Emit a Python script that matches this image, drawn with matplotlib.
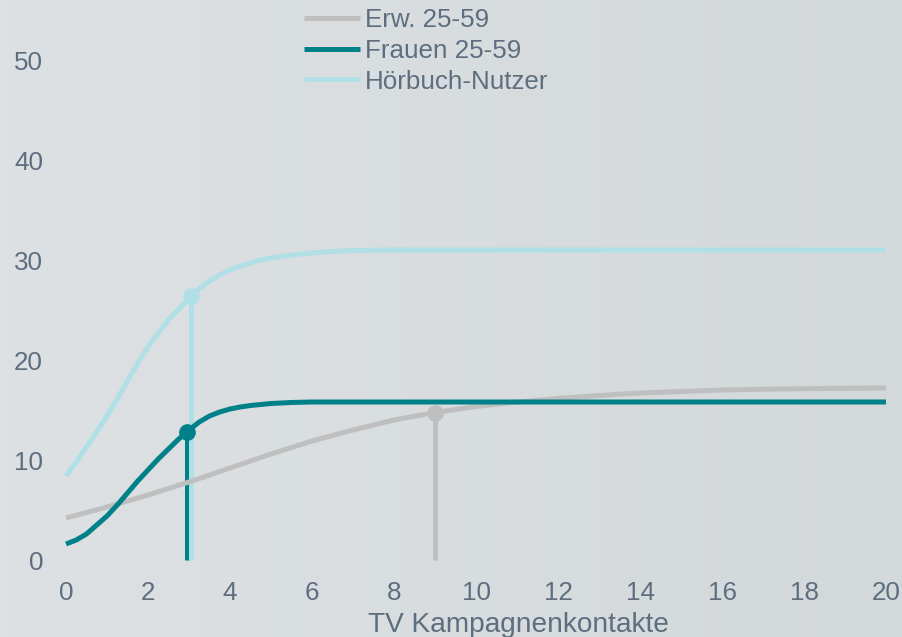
import numpy as np
import matplotlib
matplotlib.use("Agg")
import matplotlib.pyplot as plt
from matplotlib.colors import LinearSegmentedColormap

plt.rcParams["font.family"] = ["Liberation Sans", "DejaVu Sans"]

# reach curves over TV campaign contacts
kontakte_fein = [0, 0.25, 0.5, 0.75, 1, 1.25, 1.5, 1.75, 2, 2.25, 2.5, 2.75,
                 3, 3.25, 3.5, 3.75, 4, 4.25, 4.5, 4.75, 5, 5.5, 6, 6.5, 7,
                 8, 9, 10, 11, 12, 13, 14, 15, 16, 17, 18, 19, 20]
kontakte = [0, 1, 2, 3, 4, 5, 6, 7, 8, 9, 10, 11, 12, 13, 14, 15, 16, 17, 18,
            19, 20]

erw = [4.2, 5.3, 6.5, 7.8, 9.2, 10.6, 11.9, 13.0, 14.0, 14.75, 15.35, 15.8,
       16.15, 16.45, 16.7, 16.85, 17.0, 17.08, 17.13, 17.17, 17.2]
frauen = [1.6, 2.0, 2.6, 3.5, 4.4, 5.5, 6.7, 7.9, 9.0, 10.1, 11.1, 12.1, 13.0,
          13.8, 14.4, 14.8, 15.1, 15.3, 15.45, 15.55, 15.65, 15.75, 15.8,
          15.8, 15.8, 15.8, 15.8, 15.8, 15.8, 15.8, 15.8, 15.8, 15.8, 15.8,
          15.8, 15.8, 15.8, 15.8]
hoerbuch = [8.4, 9.8, 11.3, 12.8, 14.4, 16.1, 17.9, 19.7, 21.3, 22.7, 24.0,
            25.1, 26.2, 27.1, 27.9, 28.5, 29.0, 29.4, 29.7, 30.0, 30.2, 30.5,
            30.7, 30.85, 30.95, 31.0, 31.0, 31.0, 31.0, 31.0, 31.0, 31.0,
            31.0, 31.0, 31.0, 31.0, 31.0, 31.0]

# optimum points (contacts, reach)
opt_erw = (9, 14.75)
opt_frauen = (2.94, 12.8)
opt_hoerbuch = (3.06, 26.4)

labels = ["Erw. 25-59", "Frauen 25-59", "Hörbuch-Nutzer"]
colors = ["#bfbfbf", "#00818a", "#b0e0e6"]
text_col = "#5e6e7e"
fs = 18.7

fig = plt.figure(figsize=(9.02, 6.37), dpi=100)

# soft horizontal background gradient
bg = fig.add_axes([0, 0, 1, 1], zorder=-10)
cmap = LinearSegmentedColormap.from_list("bg", ["#dde1e4", "#d3d8db"])
bg.imshow(np.linspace(0, 1, 256).reshape(1, -1), aspect="auto", cmap=cmap,
          extent=[0, 1, 0, 1])
bg.axis("off")

ax = fig.add_axes([66 / 902, 77 / 637, 820 / 902, 560 / 637])
ax.patch.set_alpha(0)
ax.set_xlim(0, 20)
ax.set_ylim(0, 56)

lw = 3.6
opts = [opt_erw, opt_frauen, opt_hoerbuch]
for (ox, oy), c in zip(opts, colors):
    ax.plot([ox, ox], [0, oy], color=c, lw=lw, solid_capstyle="butt",
            zorder=1, clip_on=False)

series = [(kontakte, erw), (kontakte_fein, frauen), (kontakte_fein, hoerbuch)]
for (x, y), c, lab in zip(series, colors, labels):
    ax.plot(x, y, color=c, lw=lw, label=lab, zorder=2, clip_on=False,
            solid_capstyle="butt", solid_joinstyle="round")

for (ox, oy), c in zip(opts, colors):
    ax.plot([ox], [oy], "o", color=c, ms=11, zorder=3, clip_on=False)

ax.set_xticks(range(0, 21, 2))
ax.set_yticks(range(0, 51, 10))
ax.tick_params(axis="both", length=0, labelsize=fs, labelcolor=text_col)
ax.tick_params(axis="x", pad=15)
ax.tick_params(axis="y", pad=16.5)
for s in ax.spines.values():
    s.set_visible(False)

fig.text(518 / 902, 5 / 637, "TV Kampagnenkontakte", ha="center",
         va="baseline", fontsize=20.2, color=text_col)

leg = ax.legend(loc="upper left", bbox_to_anchor=(304 / 902, 1 - 8 / 637),
                bbox_transform=fig.transFigure, frameon=False, fontsize=fs,
                handlelength=2.15, handletextpad=0.2, labelspacing=0.26,
                borderpad=0, borderaxespad=0)
for t in leg.get_texts():
    t.set_color(text_col)

fig.savefig("out.png", dpi=100)
